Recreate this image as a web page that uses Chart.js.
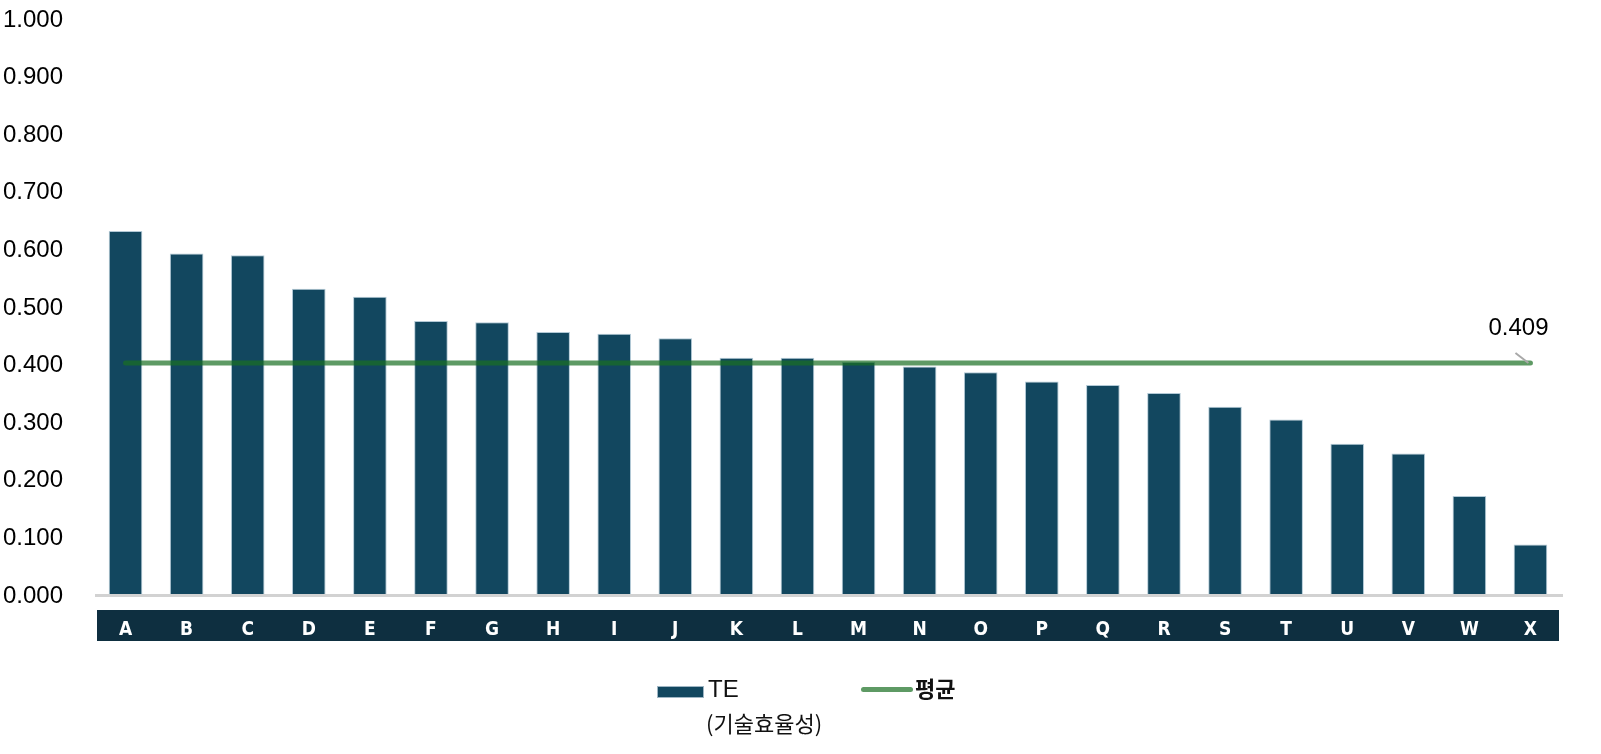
<!DOCTYPE html>
<html>
<head>
<meta charset="utf-8">
<script src="https://cdn.jsdelivr.net/npm/chart.js@4.4.1/dist/chart.umd.min.js"></script>
<style>
  html, body { margin: 0; padding: 0; background: #fff; }
  #wrap { position: relative; width: 1601px; height: 754px; }
  #legend { position: absolute; left: 0; top: 0; width: 1601px; height: 754px; pointer-events: none;
    font-family: "Liberation Sans", Arial, "Noto Sans CJK KR", sans-serif; font-size: 24px; color: #111; }
  .lg { position: absolute; }
</style>
</head>
<body>
<div id="wrap">
  <canvas id="myChart" width="1601" height="754"></canvas>
  <div id="legend">
    <div class="lg" style="left:657px;top:686px;width:45px;height:10px;background:#12475f;border:1px solid #9fb6c4;"></div>
    <div class="lg" style="left:708px;top:675px;line-height:28px;">TE</div>
    <div class="lg" style="left:706px;top:707px;line-height:30px;font-family:'Noto Sans CJK KR',sans-serif;font-size:22px;">(기술효율성)</div>
    <div class="lg" style="left:861px;top:687px;width:52px;height:5px;border-radius:3px;background:rgba(26,111,34,0.7);"></div>
    <div class="lg" style="left:915px;top:672px;line-height:30px;font-family:'Noto Sans CJK KR',sans-serif;font-size:22px;font-weight:bold;">평균</div>
  </div>
</div>
<script>
/* globals Chart:false */
const categories = ['A','B','C','D','E','F','G','H','I','J','K','L','M','N','O','P','Q','R','S','T','U','V','W','X'];
const teValues = [0.630,0.591,0.588,0.530,0.516,0.474,0.472,0.455,0.452,0.444,0.410,0.410,0.403,0.395,0.385,0.369,0.363,0.349,0.325,0.303,0.261,0.244,0.170,0.086];
const avgValue = 0.401;
const avgLabel = '0.409';
const yTicks = [0,0.1,0.2,0.3,0.4,0.5,0.6,0.7,0.8,0.9,1.0];

const barColor = '#12475f';
const avgColor = 'rgba(26,111,34,0.7)';

// dark band behind the category labels + grey base line
const bandPlugin = {
  id: 'band',
  beforeDraw(chart) {
    const {ctx, chartArea} = chart;
    ctx.save();
    ctx.fillStyle = '#0e2f40';
    ctx.fillRect(chartArea.left + 2, chartArea.bottom + 16, chartArea.right - chartArea.left - 4, 31);
    ctx.fillStyle = '#d2d2d2';
    ctx.fillRect(chartArea.left, chartArea.bottom, chartArea.right - chartArea.left + 2, 3);
    ctx.restore();
  },
  afterDatasetsDraw(chart) {
    const meta = chart.getDatasetMeta(1);
    const last = meta.data[meta.data.length - 1];
    if (!last) return;
    const ctx = chart.ctx;
    ctx.save();
    ctx.strokeStyle = '#a8a8a8';
    ctx.lineWidth = 2;
    ctx.beginPath();
    ctx.moveTo(last.x - 15, last.y - 10);
    ctx.lineTo(last.x - 2, last.y);
    ctx.stroke();
    ctx.fillStyle = '#000';
    ctx.font = '24px "Liberation Sans", Arial, sans-serif';
    ctx.textAlign = 'center';
    ctx.textBaseline = 'middle';
    ctx.fillText(avgLabel, last.x - 12, last.y - 35);
    ctx.restore();
  }
};

const myChart = document.getElementById('myChart');
if (myChart) {
  new Chart(myChart, {
    data: {
      labels: categories,
      datasets: [{
        type: 'bar',
        label: 'TE',
        data: teValues,
        backgroundColor: barColor,
        borderColor: 'rgba(170,195,210,0.9)',
        borderWidth: 1,
        barPercentage: 0.55,
        categoryPercentage: 1,
        order: 2
      }, {
        type: 'line',
        label: '평균',
        data: categories.map(() => avgValue),
        borderColor: avgColor,
        borderWidth: 5,
        borderCapStyle: 'round',
        pointRadius: 0,
        fill: false,
        order: 1
      }]
    },
    plugins: [bandPlugin],
    options: {
      responsive: false,
      animation: false,
      layout: { padding: { left: 3, right: 40, top: 18, bottom: 110 } },
      plugins: { legend: { display: false }, tooltip: { enabled: false } },
      scales: {
        x: {
          offset: true,
          grid: { display: false, drawTicks: false },
          border: { display: false },
          ticks: {
            color: '#fff',
            padding: 25,
            font: { family: '"Liberation Sans Narrow", "DejaVu Sans Condensed", sans-serif', size: 19, weight: 'bold' }
          },
          afterFit(scale) { scale.height = 50; }
        },
        y: {
          min: 0,
          max: 1,
          grid: { display: false, drawTicks: false },
          border: { display: false },
          afterBuildTicks(scale) { scale.ticks = yTicks.map(v => ({ value: v })); },
          ticks: {
            color: '#000',
            crossAlign: 'far',
            labelOffset: 2,
            font: { family: '"Liberation Sans", Arial, sans-serif', size: 24 },
            callback: v => v.toFixed(3)
          },
          afterFit(scale) { scale.width = 92; }
        }
      }
    }
  });
}
</script>
</body>
</html>
